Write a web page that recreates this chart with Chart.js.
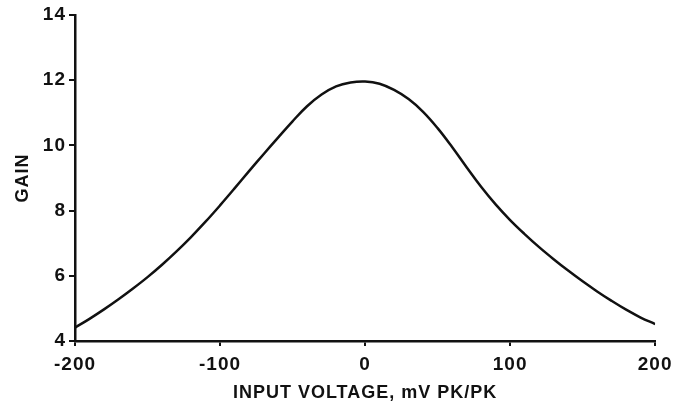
<!DOCTYPE html>
<html>
<head>
<meta charset="utf-8">
<script src="https://cdn.jsdelivr.net/npm/chart.js@4/dist/chart.umd.min.js"></script>
<style>
  html, body { margin:0; padding:0; background:#fff; }
  #wrap { width:678px; height:407px; }
</style>
</head>
<body>
<div id="wrap"><canvas id="chartGain"></canvas></div>
<script>
// ── Datos ────────────────────────────────────────────────────────────────────
const INPUT_MV = [-200,-190,-180,-170,-160,-150,-140,-130,-120,-110,-100,-90,-80,-70,-60,-50,-40,-30,-20,-10,
                  0,10,20,30,40,50,60,70,80,90,100,110,120,130,140,150,160,170,180,190,200];
const GAIN     = [4.41,4.68,4.97,5.28,5.61,5.96,6.34,6.75,7.19,7.66,8.16,8.68,9.21,9.73,10.24,10.74,11.20,11.56,11.81,11.93,
                  11.96,11.89,11.70,11.42,11.03,10.53,9.95,9.33,8.73,8.19,7.71,7.28,6.88,6.51,6.16,5.83,5.52,5.23,4.96,4.72,4.52];
const X_TICKS  = [-200,-100,0,100,200];
const Y_TICKS  = [4,6,8,10,12,14];

const ink       = '#111';
const tickFont  = { family:'Liberation Sans, Arial, sans-serif', size:19, weight:'bold' };
const titleFont = { family:'Liberation Sans, Arial, sans-serif', size:18, weight:'bold' };

new Chart(document.getElementById('chartGain'), {
    type:'line',
    data:{ datasets:[{
        data: INPUT_MV.map((x,i) => ({x, y:GAIN[i]})),
        borderColor:ink, borderWidth:2.5, pointRadius:0, fill:false, tension:0.4
    }]},
    options:{
        responsive:true, maintainAspectRatio:false, animation:false,
        layout:{ padding:{ top:15, right:19, left:12, bottom:0 } },
        plugins:{ legend:{display:false}, tooltip:{enabled:false} },
        scales:{
            x:{
                type:'linear', min:-200, max:200,
                afterBuildTicks: s => { s.ticks = X_TICKS.map(v => ({value:v})); },
                afterFit: s => { s.height = 66; },
                border:{ display:true, color:ink, width:2.5 },
                grid:{ display:true, drawOnChartArea:false, drawTicks:true, tickLength:5, color:ink, lineWidth:2 },
                ticks:{ color:ink, font:tickFont, padding:7, maxRotation:0 },
                title:{ display:true, text:'INPUT VOLTAGE, mV PK/PK', color:ink, font:titleFont, padding:{top:0, bottom:3} }
            },
            y:{
                min:4, max:14,
                afterBuildTicks: s => { s.ticks = Y_TICKS.map(v => ({value:v})); },
                afterFit: s => { s.width = 63; },
                border:{ display:true, color:ink, width:2.5 },
                grid:{ display:true, drawOnChartArea:false, drawTicks:true, tickLength:6, color:ink, lineWidth:2 },
                ticks:{ color:ink, font:tickFont, padding:3 },
                title:{ display:true, text:'GAIN', color:ink, font:titleFont, padding:{top:0, bottom:0} }
            }
        }
    },
    plugins:[{ id:'espaciado', beforeDraw(chart) {
        chart.ctx.letterSpacing = '1px';
    }}]
});
</script>
</body>
</html>
